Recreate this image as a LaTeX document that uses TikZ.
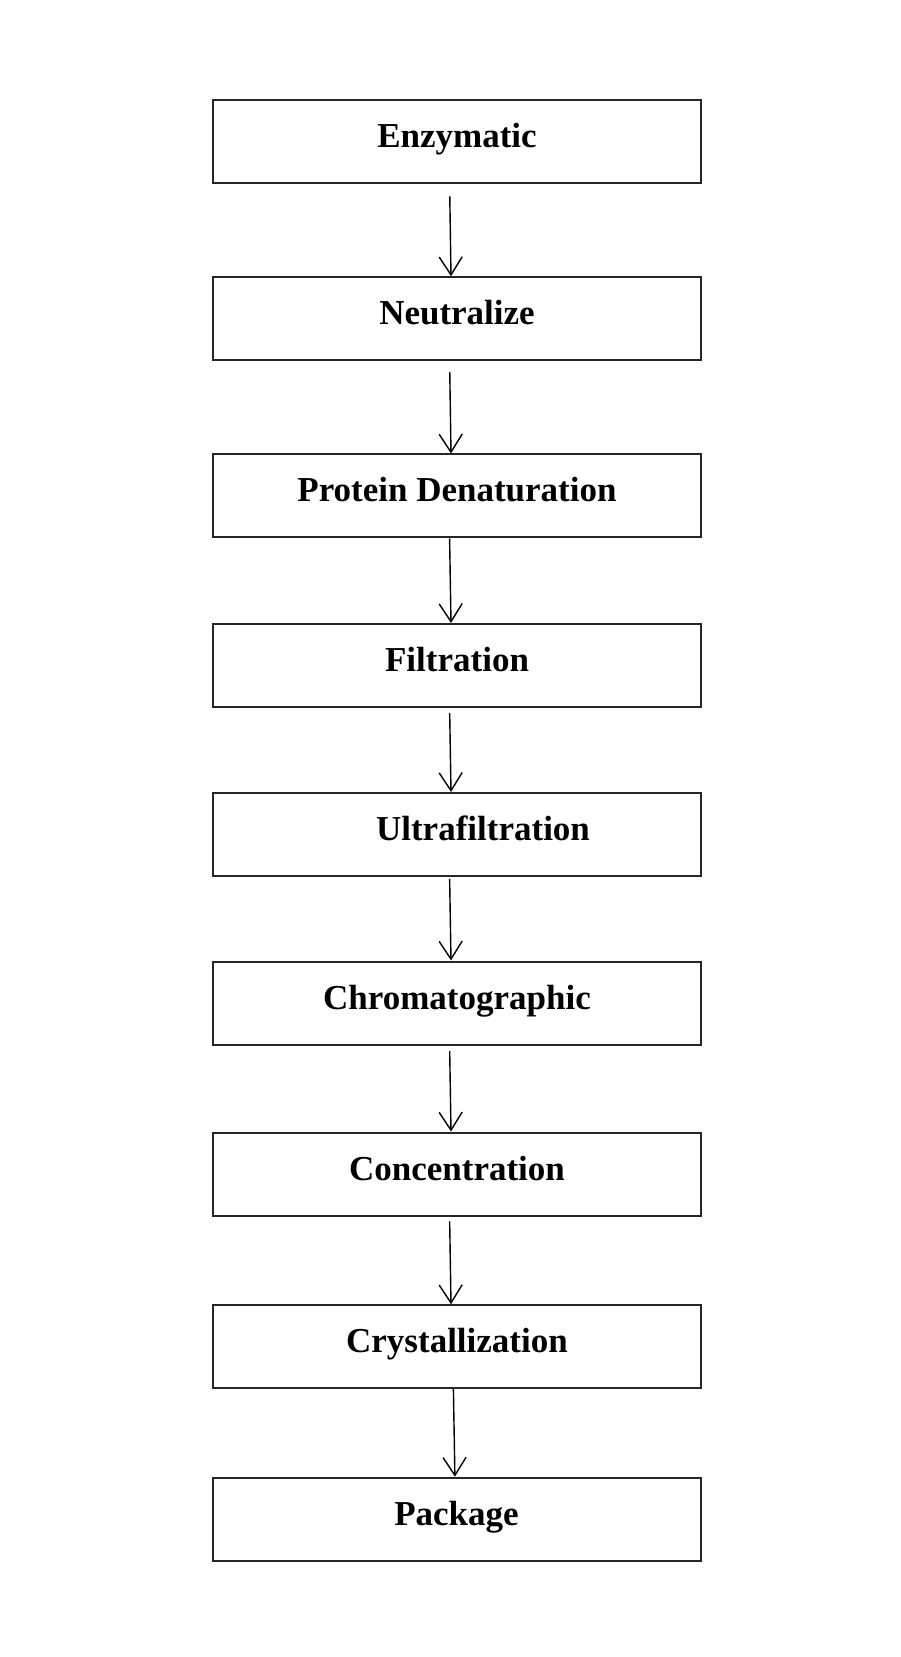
\documentclass[tikz,border=0pt]{standalone}
\usepackage{fontspec}
\setmainfont{Liberation Serif}
\usetikzlibrary{arrows.meta}
\begin{document}
\begin{tikzpicture}[x=0.5pt,y=-0.5pt,
  stepbox/.style={draw=black!85, line width=1pt, rectangle, inner sep=0pt,
    minimum width=244pt, minimum height=41.5pt, text height=12pt, text depth=6pt,
    font=\fontsize{17.5}{21}\selectfont\bfseries},
  flow/.style={draw=black, line width=0.7pt, -{Straight Barb[length=9pt,width=11.5pt,line width=0.7pt]}}
]
\useasboundingbox[fill=white] (0,0) rectangle (900,1657);
\node[stepbox] (b1) at (457,141.4) {Enzymatic};
\node[stepbox] (b2) at (457,318.7) {Neutralize};
\node[stepbox] (b3) at (457,496.0) {Protein Denaturation};
\node[stepbox] (b4) at (457,665.5) {Filtration};
\node[stepbox] (b5) at (457,834.5) {\hspace*{26pt}Ultrafiltration};
\node[stepbox] (b6) at (457,1003.0) {Chromatographic};
\node[stepbox] (b7) at (457,1174.0) {Concentration};
\node[stepbox] (b8) at (457,1346.7) {Crystallization};
\node[stepbox] (b9) at (456.5,1519.2) {Package};
\draw[flow, shorten <=6.2pt] ([xshift=-3.7pt]b1.south) -- ([xshift=-3pt]b2.north);
\draw[flow, shorten <=5.3pt] ([xshift=-3.7pt]b2.south) -- ([xshift=-3pt]b3.north);
\draw[flow] ([xshift=-3.7pt]b3.south) -- ([xshift=-3pt]b4.north);
\draw[flow, shorten <=2.5pt] ([xshift=-3.7pt]b4.south) -- ([xshift=-3pt]b5.north);
\draw[flow, shorten <=1pt] ([xshift=-3.7pt]b5.south) -- ([xshift=-3pt]b6.north);
\draw[flow, shorten <=2.8pt] ([xshift=-3.7pt]b6.south) -- ([xshift=-3pt]b7.north);
\draw[flow, shorten <=2.4pt] ([xshift=-3.7pt]b7.south) -- ([xshift=-3pt]b8.north);
\draw[flow] ([xshift=-1.8pt]b8.south) -- ([xshift=-0.8pt]b9.north);
\end{tikzpicture}
\end{document}
